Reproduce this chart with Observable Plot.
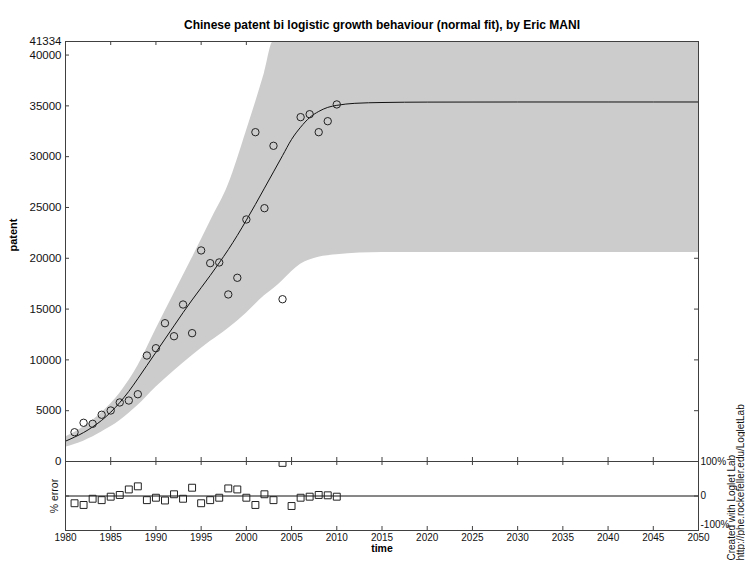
<!DOCTYPE html>
<html>
<head>
<meta charset="utf-8">
<script src="https://cdn.jsdelivr.net/npm/d3@7"></script>
<script src="https://cdn.jsdelivr.net/npm/@observablehq/plot@0.6"></script>
<style>
  html, body { margin: 0; padding: 0; background: #fff; }
  #root { position: relative; width: 745px; height: 562px; overflow: hidden; background: #fff;
          font-family: "Liberation Sans", Arial, sans-serif; }
  #main, #err { position: absolute; left: 0; }
  #main { top: 0; }
  #err { top: 455px; }
</style>
</head>
<body>
<div id="root">
  <div id="main"></div>
  <div id="err"></div>
</div>
<script>
// ---------- data ----------
const title = "Chinese patent bi logistic growth behaviour (normal fit), by Eric MANI";
const yLabel = "patent";
const errLabel = "% error";
const xLabel = "time";
const credit1 = "Created with Loglet Lab";
const credit2 = "http://phe.rockefeller.edu/LogletLab";

const years = [1981,1982,1983,1984,1985,1986,1987,1988,1989,1990,
               1991,1992,1993,1994,1995,1996,1997,1998,1999,2000,
               2001,2002,2003,2004,2005,2006,2007,2008,2009,2010];
const patent = [2880,3810,3710,4600,5020,5810,6000,6620,10430,11150,
                13610,12330,15450,12630,20770,19520,19590,16440,18080,23820,
                32410,24930,31070,15970,44600,33890,34180,32410,33490,35140];
const errorPct = [-21,-26,-8,-12,-2,3,19,28,-12,-5,
                  -13,5,-8,24,-21,-12,-5,22,19,-5,
                  -26,5,-12,96,-29,-5,-2,3,2,-2];

const fitYears = [1980,1981,1982,1983,1984,1985,1986,1987,1988,1989,1990,
                  1991,1992,1993,1994,1995,1996,1997,1998,1999,2000,
                  2001,2002,2003,2004,2005,2006,2007,2008,2009,2010,
                  2012,2015,2020,2030,2040,2050];
const fitValues = [2000,2400,2850,3400,4050,4850,5800,6900,8150,9450,10750,
                   12050,13350,14650,15900,17100,18300,19550,20850,22250,23750,
                   25300,26900,28500,30100,31700,32900,33850,34450,34850,35050,
                   35250,35330,35370,35380,35380,35380];

const bandYears = [1980,1982,1984,1986,1988,1990,1992,1994,1996,1998,2000,2002,2003,
                   2004,2006,2008,2010,2015,2020,2030,2040,2050];
const bandLower = [1400,2000,2900,4000,5500,7300,8900,10400,11800,13100,14600,16300,17000,
                   17800,19400,20100,20350,20570,20570,20570,20570,20570];
const bandUpper = [2400,3400,4800,6700,9400,13000,16500,20000,23600,27200,32500,38200,41334,
                   41334,41334,41334,41334,41334,41334,41334,41334,41334];

const xTicks = [1980,1985,1990,1995,2000,2005,2010,2015,2020,2025,2030,2035,2040,2045,2050];
const yTicks = [0,5000,10000,15000,20000,25000,30000,35000,40000,41334];
const errTicks = [-100,0,100];
const errTickLabels = ["-100%","0","100%"];

// ---------- layout ----------
const W = 745;
const ML = 65, MR = 47;
const innerW = W - ML - MR;
const mainTop = 41, mainBottom = 461;
const mainInnerH = mainBottom - mainTop;
const font = "Liberation Sans, Arial, sans-serif";
const axisColor = "#404040";

const main = Plot.plot({
  width: W, height: 562,
  marginLeft: ML, marginRight: MR, marginTop: mainTop, marginBottom: 562 - mainBottom,
  style: {fontFamily: font, background: "transparent", overflow: "visible"},
  x: {domain: [1980, 2050], axis: null},
  y: {domain: [0, 41334], axis: null},
  marks: [
    Plot.tickX(xTicks, {x: d => d, insetBottom: mainInnerH - 4, stroke: axisColor}),
    Plot.tickX(xTicks, {x: d => d, insetTop: mainInnerH - 4, stroke: axisColor}),
    Plot.tickY(yTicks, {y: d => d, insetRight: innerW - 4, stroke: axisColor}),
    Plot.tickY(yTicks, {y: d => d, insetLeft: innerW - 4, stroke: axisColor}),
    Plot.areaY(bandYears, {x: d => d, y1: (d, i) => bandLower[i], y2: (d, i) => bandUpper[i],
      fill: "#cccccc", curve: "monotone-x", clip: true}),
    Plot.line(fitYears, {x: d => d, y: (d, i) => fitValues[i], stroke: "#111", strokeWidth: 1,
      curve: "monotone-x", clip: true}),
    Plot.dot(years, {x: d => d, y: (d, i) => patent[i], r: 3.7, stroke: "#222", fill: "none",
      strokeWidth: 1, clip: true}),
    Plot.frame({stroke: axisColor}),
    Plot.text(yTicks, {y: d => d, text: d => String(d), frameAnchor: "left", textAnchor: "end",
      dx: -4, fontSize: 11.5, fill: "#111"}),
    Plot.text([yLabel], {frameAnchor: "left", dx: -52, rotate: -90, fontWeight: "bold",
      fontSize: 11, fill: "#000"}),
    Plot.text([title], {frameAnchor: "top", dy: -21, fontWeight: "bold", fontSize: 12, fill: "#000"}),
    Plot.text([credit1], {frameAnchor: "bottom-right", dx: 36, dy: 99, rotate: -90,
      textAnchor: "start", fontSize: 10, fill: "#111"}),
    Plot.text([credit2], {frameAnchor: "bottom-right", dx: 45, dy: 99, rotate: -90,
      textAnchor: "start", fontSize: 10, fill: "#111"})
  ]
});
document.getElementById("main").appendChild(main);

const errInnerH = 69;
const err = Plot.plot({
  width: W, height: 107,
  marginLeft: ML, marginRight: MR, marginTop: 6, marginBottom: 32,
  style: {fontFamily: font, background: "transparent", overflow: "visible"},
  x: {domain: [1980, 2050], axis: null},
  y: {domain: [-100, 100], axis: null},
  marks: [
    Plot.ruleY([0], {stroke: "#111"}),
    Plot.tickX(xTicks, {x: d => d, insetBottom: errInnerH - 4, stroke: axisColor}),
    Plot.tickX(xTicks, {x: d => d, insetTop: errInnerH - 4, stroke: axisColor}),
    Plot.tickY(errTicks, {y: d => d, insetRight: innerW - 4, stroke: axisColor}),
    Plot.tickY(errTicks, {y: d => d, insetLeft: innerW - 4, stroke: axisColor}),
    Plot.dot(years, {x: d => d, y: (d, i) => errorPct[i], symbol: "square", r: 3.9,
      stroke: "#222", fill: "none", strokeWidth: 1, clip: true}),
    Plot.frame({stroke: axisColor}),
    Plot.text(xTicks, {x: d => d, text: d => String(d), frameAnchor: "bottom", dy: 10,
      fontSize: 10, fill: "#111"}),
    Plot.text(errTicks.slice(1), {y: d => d, text: (d, i) => errTickLabels[i + 1], frameAnchor: "right",
      textAnchor: "start", dx: 2, fontSize: 10, fill: "#111"}),
    Plot.text(errTicks.slice(0, 1), {y: d => d, text: () => errTickLabels[0], frameAnchor: "right",
      textAnchor: "start", dx: 2, dy: -6, fontSize: 10, fill: "#111"}),
    Plot.text([errLabel], {x: () => 1980, y: () => 0, dx: -11, rotate: -90, fontSize: 10.5, fill: "#111"}),
    Plot.text([xLabel], {frameAnchor: "bottom", dy: 21, fontWeight: "bold", fontSize: 10.5, fill: "#000"})
  ]
});
document.getElementById("err").appendChild(err);
</script>
</body>
</html>
